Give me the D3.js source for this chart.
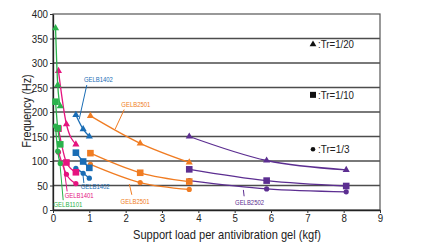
<!DOCTYPE html>
<html><head><meta charset="utf-8">
<script src="https://cdn.jsdelivr.net/npm/d3@7"></script>
<style>
html,body{margin:0;padding:0;background:#fff;}
svg{display:block;font-family:"Liberation Sans",Arial,sans-serif;}
</style></head>
<body>
<svg id="chart" width="431" height="248"></svg>
<script>
const models = ["GELB1101","GELB1401","GELB1402","GELB2501","GELB2502"];
const colors = ["#2bb24c","#e5147f","#1a6db5","#f07c22","#5c2e91"];
const loads = [[0.07,0.13,0.2],[0.15,0.37,0.63],[0.63,0.83,1.0],[1.03,2.4,3.75],[3.75,5.88,8.07]];
const tr20 = [[371,255,212],[284,175,134],[194,165,150],[192,136,97],[150,101,82]];
const tr10 = [[221,167,134],[166,97,77],[117,99,86],[116,76,58],[83,60,49]];
const tr3  = [[171,120,95],[118,73,54],[85,75,65],[93,56,42],[60,43,37]];
const xTicks = [0,1,2,3,4,5,6,7,8,9];
const yTicks = [0,50,100,150,200,250,300,350,400];
const legendLabels = [":Tr=1/20", ":Tr=1/10", ":Tr=1/3"];

const svg = d3.select("#chart");
const x = d3.scaleLinear().domain([0,9]).range([53,380]);
const y = d3.scaleLinear().domain([0,400]).range([210,14]);

// gridlines
svg.append("g").selectAll("line").data(yTicks.filter(t=>t>0&&t<400)).join("line")
  .attr("x1",x(0)).attr("x2",x(9)).attr("y1",d=>y(d)).attr("y2",d=>y(d))
  .attr("stroke","#4d4d4d").attr("stroke-width",1.3);

// frame
svg.append("rect").attr("x",x(0)).attr("y",y(400)).attr("width",x(9)-x(0)).attr("height",y(0)-y(400))
  .attr("fill","none").attr("stroke","#555").attr("stroke-width",1.2);

// axes
const xa = svg.append("g").attr("transform",`translate(0,${y(0)})`)
  .call(d3.axisBottom(x).tickValues(xTicks).tickSize(3).tickSizeOuter(0).tickPadding(1));
const ya = svg.append("g").attr("transform",`translate(${x(0)},0)`)
  .call(d3.axisLeft(y).tickValues(yTicks).tickSize(3).tickSizeOuter(0).tickPadding(2));
[xa,ya].forEach(a=>{
  a.select(".domain").attr("stroke","#222").attr("stroke-width",1.3);
  a.selectAll(".tick line").attr("stroke","#333");
  a.selectAll("text").attr("font-size",11.5).attr("fill","#222")
   .attr("font-family",'"Liberation Sans",Arial,sans-serif')
   .attr("textLength",d=>String(d).length*5.4).attr("lengthAdjust","spacingAndGlyphs");
});

svg.append("text").attr("x",227).attr("y",238.5).attr("text-anchor","middle")
  .attr("font-size",13).attr("fill","#222")
  .attr("textLength",188).attr("lengthAdjust","spacingAndGlyphs")
  .text("Support load per antivibration gel (kgf)");
svg.append("text").attr("transform","translate(31,111) rotate(-90)").attr("text-anchor","middle")
  .attr("font-size",12.5).attr("fill","#222")
  .attr("textLength",73).attr("lengthAdjust","spacingAndGlyphs")
  .text("Frequency (Hz)");

// series
const line = d3.line().x(d=>x(d[0])).y(d=>y(d[1])).curve(d3.curveMonotoneX);
const sets = [tr20,tr10,tr3];
const order = [4,3,2,1,0];
order.forEach(i=>{
  const g = svg.append("g");
  sets.forEach((vals,k)=>{
    const pts = loads[i].map((l,j)=>[l,vals[i][j]]);
    g.append("path").attr("d",line(pts)).attr("fill","none")
      .attr("stroke",colors[i]).attr("stroke-width",1.3);
    pts.forEach(p=>{
      const cx=x(p[0]), cy=y(p[1]);
      if(k===0){
        g.append("path").attr("d",d3.symbol(d3.symbolTriangle,22)()).attr("transform",`translate(${cx},${cy})`).attr("fill",colors[i]);
      } else if(k===1){
        g.append("rect").attr("x",cx-3.3).attr("y",cy-3.3).attr("width",6.6).attr("height",6.6).attr("fill",colors[i]);
      } else {
        g.append("circle").attr("cx",cx).attr("cy",cy).attr("r",2.6).attr("fill",colors[i]);
      }
    });
  });
});

// annotations (label position and leader line, in data units)
const notes = [
  {m:2, lx:1.25, ly:267, a:[0.93,255], b:[0.72,185]},
  {m:3, lx:2.28, ly:216, a:[1.96,205], b:[1.71,165]},
  {m:2, lx:1.16, ly:47,  a:[0.82,75],  b:[0.85,55]},
  {m:1, lx:0.72, ly:29,  a:[0.29,92],  b:[0.39,38]},
  {m:0, lx:0.41, ly:11,  a:[0.18,104], b:[0.28,20]},
  {m:3, lx:2.26, ly:18,  a:[2.1,53],   b:[2.17,31]},
  {m:4, lx:5.41, ly:16,  a:[5.24,41],  b:[5.26,28]}
];
notes.forEach(n=>{
  svg.append("line").attr("x1",x(n.a[0])).attr("y1",y(n.a[1])).attr("x2",x(n.b[0])).attr("y2",y(n.b[1]))
    .attr("stroke",colors[n.m]).attr("stroke-width",1);
  svg.append("text").attr("x",x(n.lx)).attr("y",y(n.ly)+2.5).attr("text-anchor","middle")
    .attr("font-size",6.8).attr("fill",colors[n.m])
    .attr("textLength",29).attr("lengthAdjust","spacingAndGlyphs").text(models[n.m]);
});

// legend
const legY = [338,235,124];
legendLabels.forEach((t,k)=>{
  const cy=y(legY[k]), cx=313;
  if(k===0) svg.append("path").attr("d",d3.symbol(d3.symbolTriangle,20)()).attr("transform",`translate(${cx},${cy})`).attr("fill","#111");
  else if(k===1) svg.append("rect").attr("x",cx-3).attr("y",cy-3).attr("width",6).attr("height",6).attr("fill","#111");
  else svg.append("circle").attr("cx",cx).attr("cy",cy).attr("r",2.3).attr("fill","#111");
  svg.append("text").attr("x",cx+5).attr("y",cy+4).attr("font-size",11).attr("fill","#222")
    .attr("textLength",t.length*4.5).attr("lengthAdjust","spacingAndGlyphs").text(t);
});
</script>
</body></html>
